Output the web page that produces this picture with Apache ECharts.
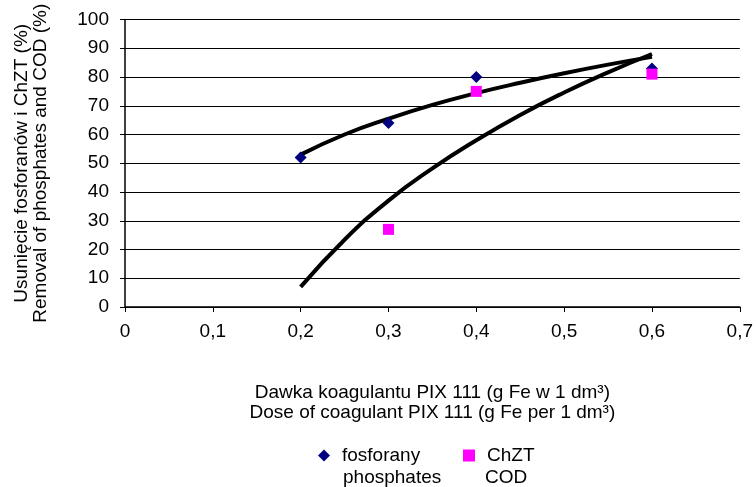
<!DOCTYPE html>
<html>
<head>
<meta charset="utf-8">
<script src="https://cdn.jsdelivr.net/npm/echarts@6/dist/echarts.min.js"></script>
<style>
  html, body { margin: 0; padding: 0; background: #fff; }
  #chart { width: 756px; height: 487px; }
</style>
</head>
<body>
<div id="chart"></div>
<script>
// measured points
const phosX = [0.2, 0.3, 0.4, 0.6];
const phosY = [52, 64, 80, 83];
const codX = [0.3, 0.4, 0.6];
const codY = [27, 75, 81];

// trend curves
const trendX = [0.2, 0.25, 0.3, 0.35, 0.4, 0.45, 0.5, 0.55, 0.6];
const phosTrend = [53, 60, 65.5, 70.3, 74.4, 78, 81.3, 84.3, 87];
const codTrend = [7, 23.4, 37, 48.2, 58, 66.8, 74.6, 81.6, 88];

const xTicks = [0, 0.1, 0.2, 0.3, 0.4, 0.5, 0.6, 0.7];

function pairs(xs, ys) {
  return xs.map((x, i) => [x, ys[i]]);
}

const font = "'Liberation Sans', Arial, sans-serif";
const fs = 19;
const chart = echarts.init(document.getElementById('chart'));

const legendText = { fontFamily: font, fontSize: fs, color: '#000', padding: [0, 0, 0, 7] };

chart.setOption({
  backgroundColor: '#ffffff',
  animation: false,
  textStyle: { fontFamily: font, color: '#000' },
  grid: { left: 125, right: 16, top: 19.5, bottom: 180 },
  legend: [
    {
      data: ['fosforany'],
      left: 313,
      top: 441,
      itemWidth: 12,
      itemHeight: 12,
      textStyle: legendText
    },
    {
      data: ['ChZT'],
      left: 458,
      top: 441,
      itemWidth: 12,
      itemHeight: 12,
      textStyle: legendText
    }
  ],
  graphic: [
    { type: 'text', left: 343, top: 468, style: { text: 'phosphates', font: fs + 'px ' + font, fill: '#000' } },
    { type: 'text', left: 485, top: 468, style: { text: 'COD', font: fs + 'px ' + font, fill: '#000' } }
  ],
  xAxis: {
    type: 'value',
    min: 0,
    max: 0.7,
    interval: 0.1,
    name: 'Dawka koagulantu PIX 111 (g Fe w 1 dm³)\nDose of coagulant PIX 111 (g Fe per 1 dm³)',
    nameLocation: 'middle',
    nameGap: 76,
    nameTextStyle: { fontFamily: font, fontSize: fs, color: '#000', lineHeight: 20 },
    axisLine: { show: true, onZero: false, lineStyle: { color: '#000', width: 1.5 } },
    axisTick: { show: true, length: 5, lineStyle: { color: '#000' } },
    axisLabel: {
      fontFamily: font, fontSize: fs, color: '#000', margin: 15,
      formatter: v => {
        const t = xTicks.find(k => Math.abs(k - v) < 1e-9);
        return String(t !== undefined ? t : v).replace('.', ',');
      }
    },
    splitLine: { show: false }
  },
  yAxis: {
    type: 'value',
    min: 0,
    max: 100,
    interval: 10,
    name: 'Usunięcie fosforanów i ChZT (%)\nRemoval of phosphates and COD (%)',
    nameLocation: 'middle',
    nameRotate: 90,
    nameGap: 75,
    nameTextStyle: { fontFamily: font, fontSize: fs, color: '#000', lineHeight: 19 },
    axisLine: { show: true, lineStyle: { color: '#000', width: 1.5 } },
    axisTick: { show: true, length: 5, lineStyle: { color: '#000' } },
    axisLabel: { fontFamily: font, fontSize: fs, color: '#000', margin: 16 },
    splitLine: { show: true, lineStyle: { color: '#000', width: 1.2 } }
  },
  series: [
    {
      name: 'trend fosforany',
      type: 'line',
      data: pairs(trendX, phosTrend),
      smooth: true,
      showSymbol: false,
      lineStyle: { color: '#000', width: 4 },
      z: 2
    },
    {
      name: 'trend ChZT',
      type: 'line',
      data: pairs(trendX, codTrend),
      smooth: true,
      showSymbol: false,
      lineStyle: { color: '#000', width: 4 },
      z: 2
    },
    {
      name: 'fosforany',
      type: 'scatter',
      data: pairs(phosX, phosY),
      symbol: 'diamond',
      symbolSize: 12,
      itemStyle: { color: '#000080', opacity: 1 },
      z: 3
    },
    {
      name: 'ChZT',
      type: 'scatter',
      data: pairs(codX, codY),
      symbol: 'rect',
      symbolSize: 11,
      itemStyle: { color: '#FF00FF', opacity: 1 },
      z: 4
    }
  ]
});
</script>
</body>
</html>
